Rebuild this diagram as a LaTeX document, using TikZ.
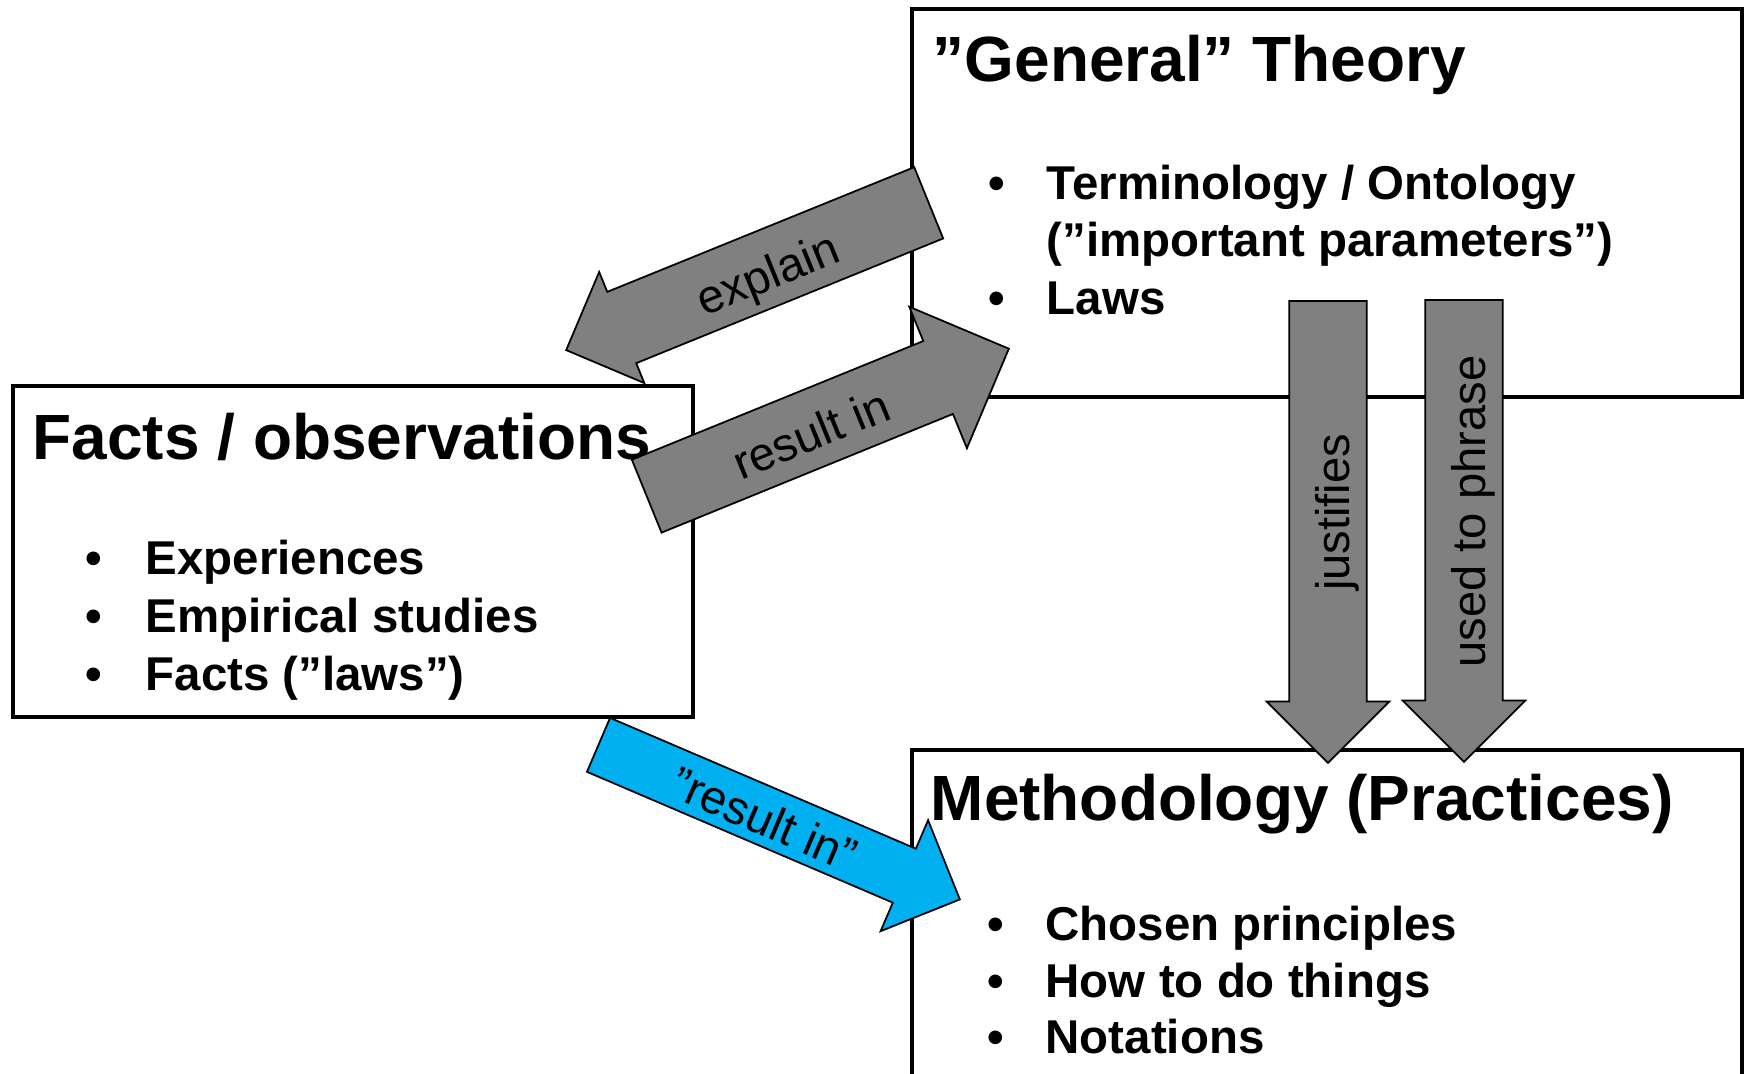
\documentclass[tikz,border=0pt]{standalone}
\usepackage{fontspec}
\setmainfont{Liberation Sans}
\usetikzlibrary{shapes.arrows}
\definecolor{arrowgray}{HTML}{808080}
\definecolor{arrowblue}{HTML}{00B0F0}
\begin{document}
\begin{tikzpicture}[
    box/.style={draw, line width=1.1pt},
    heading/.style={anchor=base west, inner sep=0pt, font=\bfseries\fontsize{18.2}{22}\selectfont},
    entry/.style={anchor=base west, inner sep=0pt, font=\bfseries\fontsize{13.5}{16}\selectfont},
    bullet/.style={anchor=base, inner sep=0pt, font=\bfseries\fontsize{13.5}{16}\selectfont},
    flow/.style={single arrow, draw, line width=0.5pt, fill=arrowgray, anchor=tail,
      inner xsep=0pt, inner ysep=0pt, minimum width=0pt,
      font=\fontsize{13.4}{16}\selectfont}
  ]
  \useasboundingbox (0,0) rectangle (17.47,10.73);
  \clip (0,0) rectangle (17.47,10.73);
  % the three boxes
  \node[box, minimum width=8.30cm, minimum height=3.88cm] (theory) at (13.27,8.70) {};
  \node[box, minimum width=6.80cm, minimum height=3.31cm] (facts) at (3.53,5.215) {};
  \node[box, minimum width=8.30cm, minimum height=3.60cm] (method) at (13.27,1.43) {};
  % texts
  \draw
    (9.32,9.91) node[heading] (theorytitle) {”General” Theory}
    (9.97,8.73) node[bullet] (tb1) {•}
    (10.46,8.73) node[entry] (t1) {Terminology / Ontology}
    (10.46,8.16) node[entry] (t2) {(”important parameters”)}
    (9.97,7.59) node[bullet] (tb3) {•}
    (10.46,7.59) node[entry] (t3) {Laws};
  \draw
    (0.32,6.14) node[heading] (factstitle) {Facts / observations}
    (0.94,4.99) node[bullet] (fb1) {•}
    (1.45,4.99) node[entry] (f1) {Experiences}
    (0.94,4.41) node[bullet] (fb2) {•}
    (1.45,4.41) node[entry] (f2) {Empirical studies}
    (0.94,3.83) node[bullet] (fb3) {•}
    (1.45,3.83) node[entry] (f3) {Facts (”laws”)};
  \draw
    (9.30,2.53) node[heading] (methodtitle) {Methodology (Practices)}
    (9.96,1.33) node[bullet] (mb1) {•}
    (10.45,1.33) node[entry] (m1) {Chosen principles}
    (9.96,0.76) node[bullet] (mb2) {•}
    (10.45,0.76) node[entry] (m2) {How to do things}
    (9.96,0.20) node[bullet] (mb3) {•}
    (10.45,0.20) node[entry] (m3) {Notations};
  % block arrows
  \node[flow, minimum height=3.913cm, rotate=22.11, shape border rotate=180,
    single arrow head extend=0.215cm, text height=16.7pt, text depth=4.7pt]
    (explain) at (9.295,8.705) {explain};
  \node[flow, minimum height=3.91cm, rotate=22.16,
    single arrow head extend=0.37cm, text height=16.9pt, text depth=5.0pt]
    (resultin) at (6.459,5.765) {result in};
  \node[flow, fill=arrowblue, minimum height=3.93cm, rotate=-23.16,
    single arrow head extend=0.31cm, text height=13.6pt, text depth=2.6pt]
    (quoted) at (5.977,3.285) {”result in”};
  \node[flow, minimum height=4.62cm, rotate=90, shape border rotate=180,
    single arrow head extend=0.225cm, text height=16.8pt, text depth=4.8pt]
    (justifies) at (13.28,7.73) {justifies};
  \node[flow, minimum height=4.62cm, rotate=90, shape border rotate=180,
    single arrow head extend=0.225cm, text height=16.8pt, text depth=4.8pt]
    (phrase) at (14.64,7.74) {used to phrase};
\end{tikzpicture}
\end{document}
